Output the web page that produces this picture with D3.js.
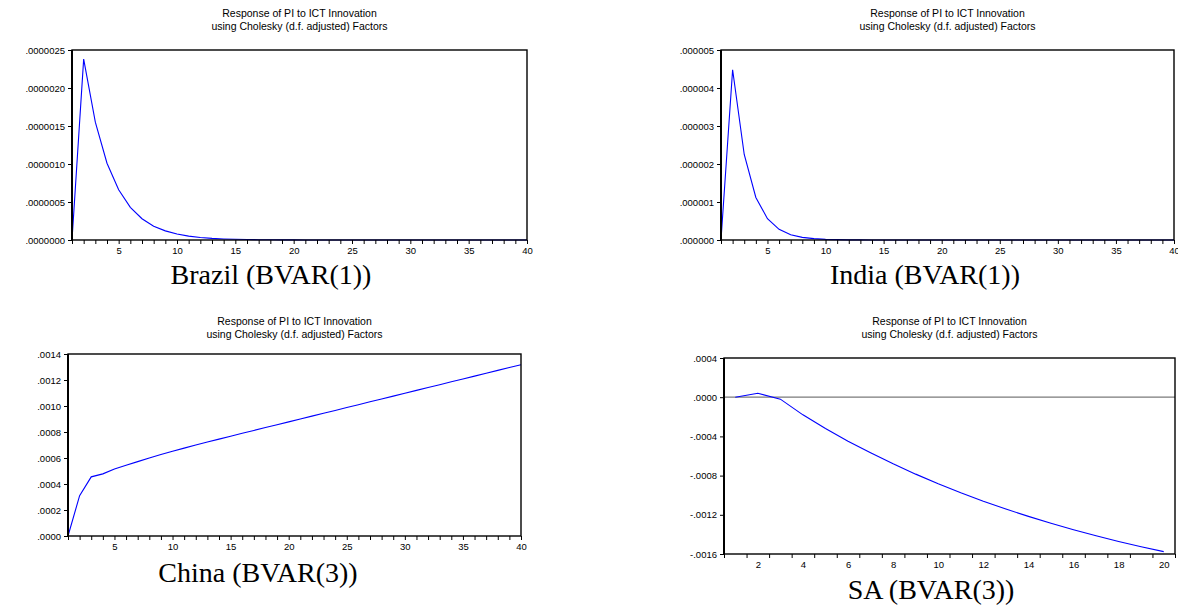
<!DOCTYPE html>
<html><head><meta charset="utf-8">
<script src="https://cdn.jsdelivr.net/npm/d3@7"></script>
<style>
body{margin:0;background:#fff;}
svg{display:block;}
.tl{font-family:"Liberation Sans",Arial,sans-serif;font-size:9.5px;fill:#000;}
.ttl{font-family:"Liberation Sans",Arial,sans-serif;font-size:10.5px;fill:#000;}
.cap{font-family:"Liberation Serif","Times New Roman",serif;font-size:28px;fill:#000;}
</style></head><body>
<script>
// ---------- data ----------
const titleLines = ["Response of PI to ICT Innovation", "using Cholesky (d.f. adjusted) Factors"];

const periods40 = d3.range(1, 41);
const periods20 = d3.range(1, 21);

const brazilValues = [0, 2.38e-6, 1.55e-6, 1.01e-6, 0.66e-6, 0.43e-6, 0.28e-6, 0.18e-6, 0.12e-6, 0.078e-6,
  0.051e-6, 0.033e-6, 0.021e-6, 0.014e-6, 0.009e-6, 0.006e-6, 0.004e-6, 0.0025e-6, 0.0016e-6, 0.001e-6,
  0.0007e-6, 0.0004e-6, 0.0003e-6, 0.0002e-6, 0.0001e-6, 0, 0, 0, 0, 0,
  0, 0, 0, 0, 0, 0, 0, 0, 0, 0];
const indiaValues = [0, 4.48e-6, 2.25e-6, 1.12e-6, 0.56e-6, 0.28e-6, 0.14e-6, 0.07e-6, 0.035e-6, 0.017e-6,
  0.009e-6, 0.004e-6, 0.002e-6, 0.001e-6, 0.0005e-6, 0, 0, 0, 0, 0,
  0, 0, 0, 0, 0, 0, 0, 0, 0, 0,
  0, 0, 0, 0, 0, 0, 0, 0, 0, 0];
const chinaValues = [0, 0.000310, 0.000455, 0.000478, 0.000515, 0.000545, 0.000572, 0.000600, 0.000627, 0.000652,
  0.000676, 0.000700, 0.000723, 0.000745, 0.000768, 0.000790, 0.000812, 0.000834, 0.000856, 0.000878,
  0.000900, 0.000922, 0.000944, 0.000966, 0.000988, 0.001010, 0.001032, 0.001054, 0.001076, 0.001098,
  0.001120, 0.001142, 0.001164, 0.001186, 0.001208, 0.001230, 0.001252, 0.001274, 0.001296, 0.001318];
const saValues = [0, 0.00004, -0.00002, -0.00018, -0.00032, -0.00045, -0.000568, -0.00068, -0.000785, -0.000883,
  -0.000975, -0.001061, -0.001141, -0.001216, -0.001286, -0.001352, -0.001414, -0.001472, -0.001526, -0.001576];

const brazilYTicks = [0, 0.0000005, 0.0000010, 0.0000015, 0.0000020, 0.0000025];
const brazilYLabels = [".0000000", ".0000005", ".0000010", ".0000015", ".0000020", ".0000025"];
const indiaYTicks = [0, 0.000001, 0.000002, 0.000003, 0.000004, 0.000005];
const indiaYLabels = [".000000", ".000001", ".000002", ".000003", ".000004", ".000005"];
const chinaYTicks = [0, 0.0002, 0.0004, 0.0006, 0.0008, 0.0010, 0.0012, 0.0014];
const chinaYLabels = [".0000", ".0002", ".0004", ".0006", ".0008", ".0010", ".0012", ".0014"];
const saYTicks = [-0.0016, -0.0012, -0.0008, -0.0004, 0, 0.0004];
const saYLabels = ["-.0016", "-.0012", "-.0008", "-.0004", ".0000", ".0004"];

const x40Labels = [5, 10, 15, 20, 25, 30, 35, 40];
const x20Labels = [2, 4, 6, 8, 10, 12, 14, 16, 18, 20];

const captions = ["Brazil (BVAR(1))", "India (BVAR(1))", "China (BVAR(3))", "SA (BVAR(3))"];

// ---------- drawing ----------
const svg = d3.select("body").append("svg").attr("width", 1178).attr("height", 605);

function panel(o) {
  const g = svg.append("g");
  const x = d3.scaleLinear().domain(o.xDomain).range([o.left, o.right]);
  const y = d3.scaleLinear().domain(o.yDomain).range([o.bottom, o.top]);

  const cx = (o.left + o.right) / 2;
  titleLines.forEach((t, i) => {
    g.append("text").attr("class", "ttl").attr("x", cx).attr("y", o.titleY + i * 12.5)
      .attr("text-anchor", "middle").text(t);
  });

  if (o.zeroLine) {
    g.append("line").attr("x1", o.left).attr("x2", o.right).attr("y1", y(0)).attr("y2", y(0))
      .attr("stroke", "#7a7a7a").attr("stroke-width", 1.3);
  }

  const line = d3.line().x((d, i) => x(o.periods[i])).y(d => y(d));
  g.append("path").datum(o.values).attr("d", line).attr("fill", "none")
    .attr("stroke", "#0000ff").attr("stroke-width", 1.1);

  g.append("rect").attr("x", o.left).attr("y", o.top).attr("width", o.right - o.left)
    .attr("height", o.bottom - o.top).attr("fill", "none").attr("stroke", "#000").attr("stroke-width", 1.4);
  g.append("line").attr("x1", o.left).attr("x2", o.left).attr("y1", o.top).attr("y2", o.bottom)
    .attr("stroke", "#000").attr("stroke-width", 2);

  const ya = d3.axisLeft(y).tickValues(o.yTicks).tickSize(4).tickPadding(3)
    .tickFormat((d, i) => o.yLabels[i]);
  const yg = g.append("g").attr("transform", `translate(${o.left},0)`).call(ya);
  yg.select(".domain").remove();
  yg.selectAll("text").attr("class", "tl").attr("font-family", null).attr("font-size", null);

  const xa = d3.axisBottom(x).tickValues(o.xTickVals).tickSize(4).tickFormat("");
  const xg = g.append("g").attr("transform", `translate(0,${o.bottom})`).call(xa);
  xg.select(".domain").remove();
  const xl = d3.axisBottom(x).tickValues(o.xLabels).tickSize(0).tickPadding(7).tickFormat(d3.format("d"));
  const xlg = g.append("g").attr("transform", `translate(0,${o.bottom})`).call(xl);
  xlg.select(".domain").remove();
  xlg.selectAll("text").attr("class", "tl").attr("font-family", null).attr("font-size", null);

  g.append("text").attr("class", "cap").attr("x", o.capX).attr("y", o.capY)
    .attr("text-anchor", "middle").text(o.caption);
}

panel({left: 72, right: 527, top: 50, bottom: 240, titleY: 17, xDomain: [1, 40], yDomain: [0, 0.0000025],
  periods: periods40, values: brazilValues, yTicks: brazilYTicks, yLabels: brazilYLabels,
  xTickVals: periods40, xLabels: x40Labels, caption: captions[0], capX: 271, capY: 284});
panel({left: 721, right: 1174, top: 50, bottom: 240, titleY: 17, xDomain: [1, 40], yDomain: [0, 0.000005],
  periods: periods40, values: indiaValues, yTicks: indiaYTicks, yLabels: indiaYLabels,
  xTickVals: periods40, xLabels: x40Labels, caption: captions[1], capX: 925, capY: 284});
panel({left: 68, right: 521, top: 354, bottom: 536, titleY: 325, xDomain: [1, 40], yDomain: [0, 0.0014],
  periods: periods40, values: chinaValues, yTicks: chinaYTicks, yLabels: chinaYLabels,
  xTickVals: periods40, xLabels: x40Labels, caption: captions[2], capX: 258, capY: 582});
panel({left: 724, right: 1175, top: 358, bottom: 554, titleY: 325, xDomain: [0.5, 20.5], yDomain: [-0.0016, 0.0004],
  periods: periods20, values: saValues, yTicks: saYTicks, yLabels: saYLabels, zeroLine: true,
  xTickVals: d3.range(0.5, 21, 1), xLabels: x20Labels, caption: captions[3], capX: 931, capY: 599});
</script>
</body></html>
